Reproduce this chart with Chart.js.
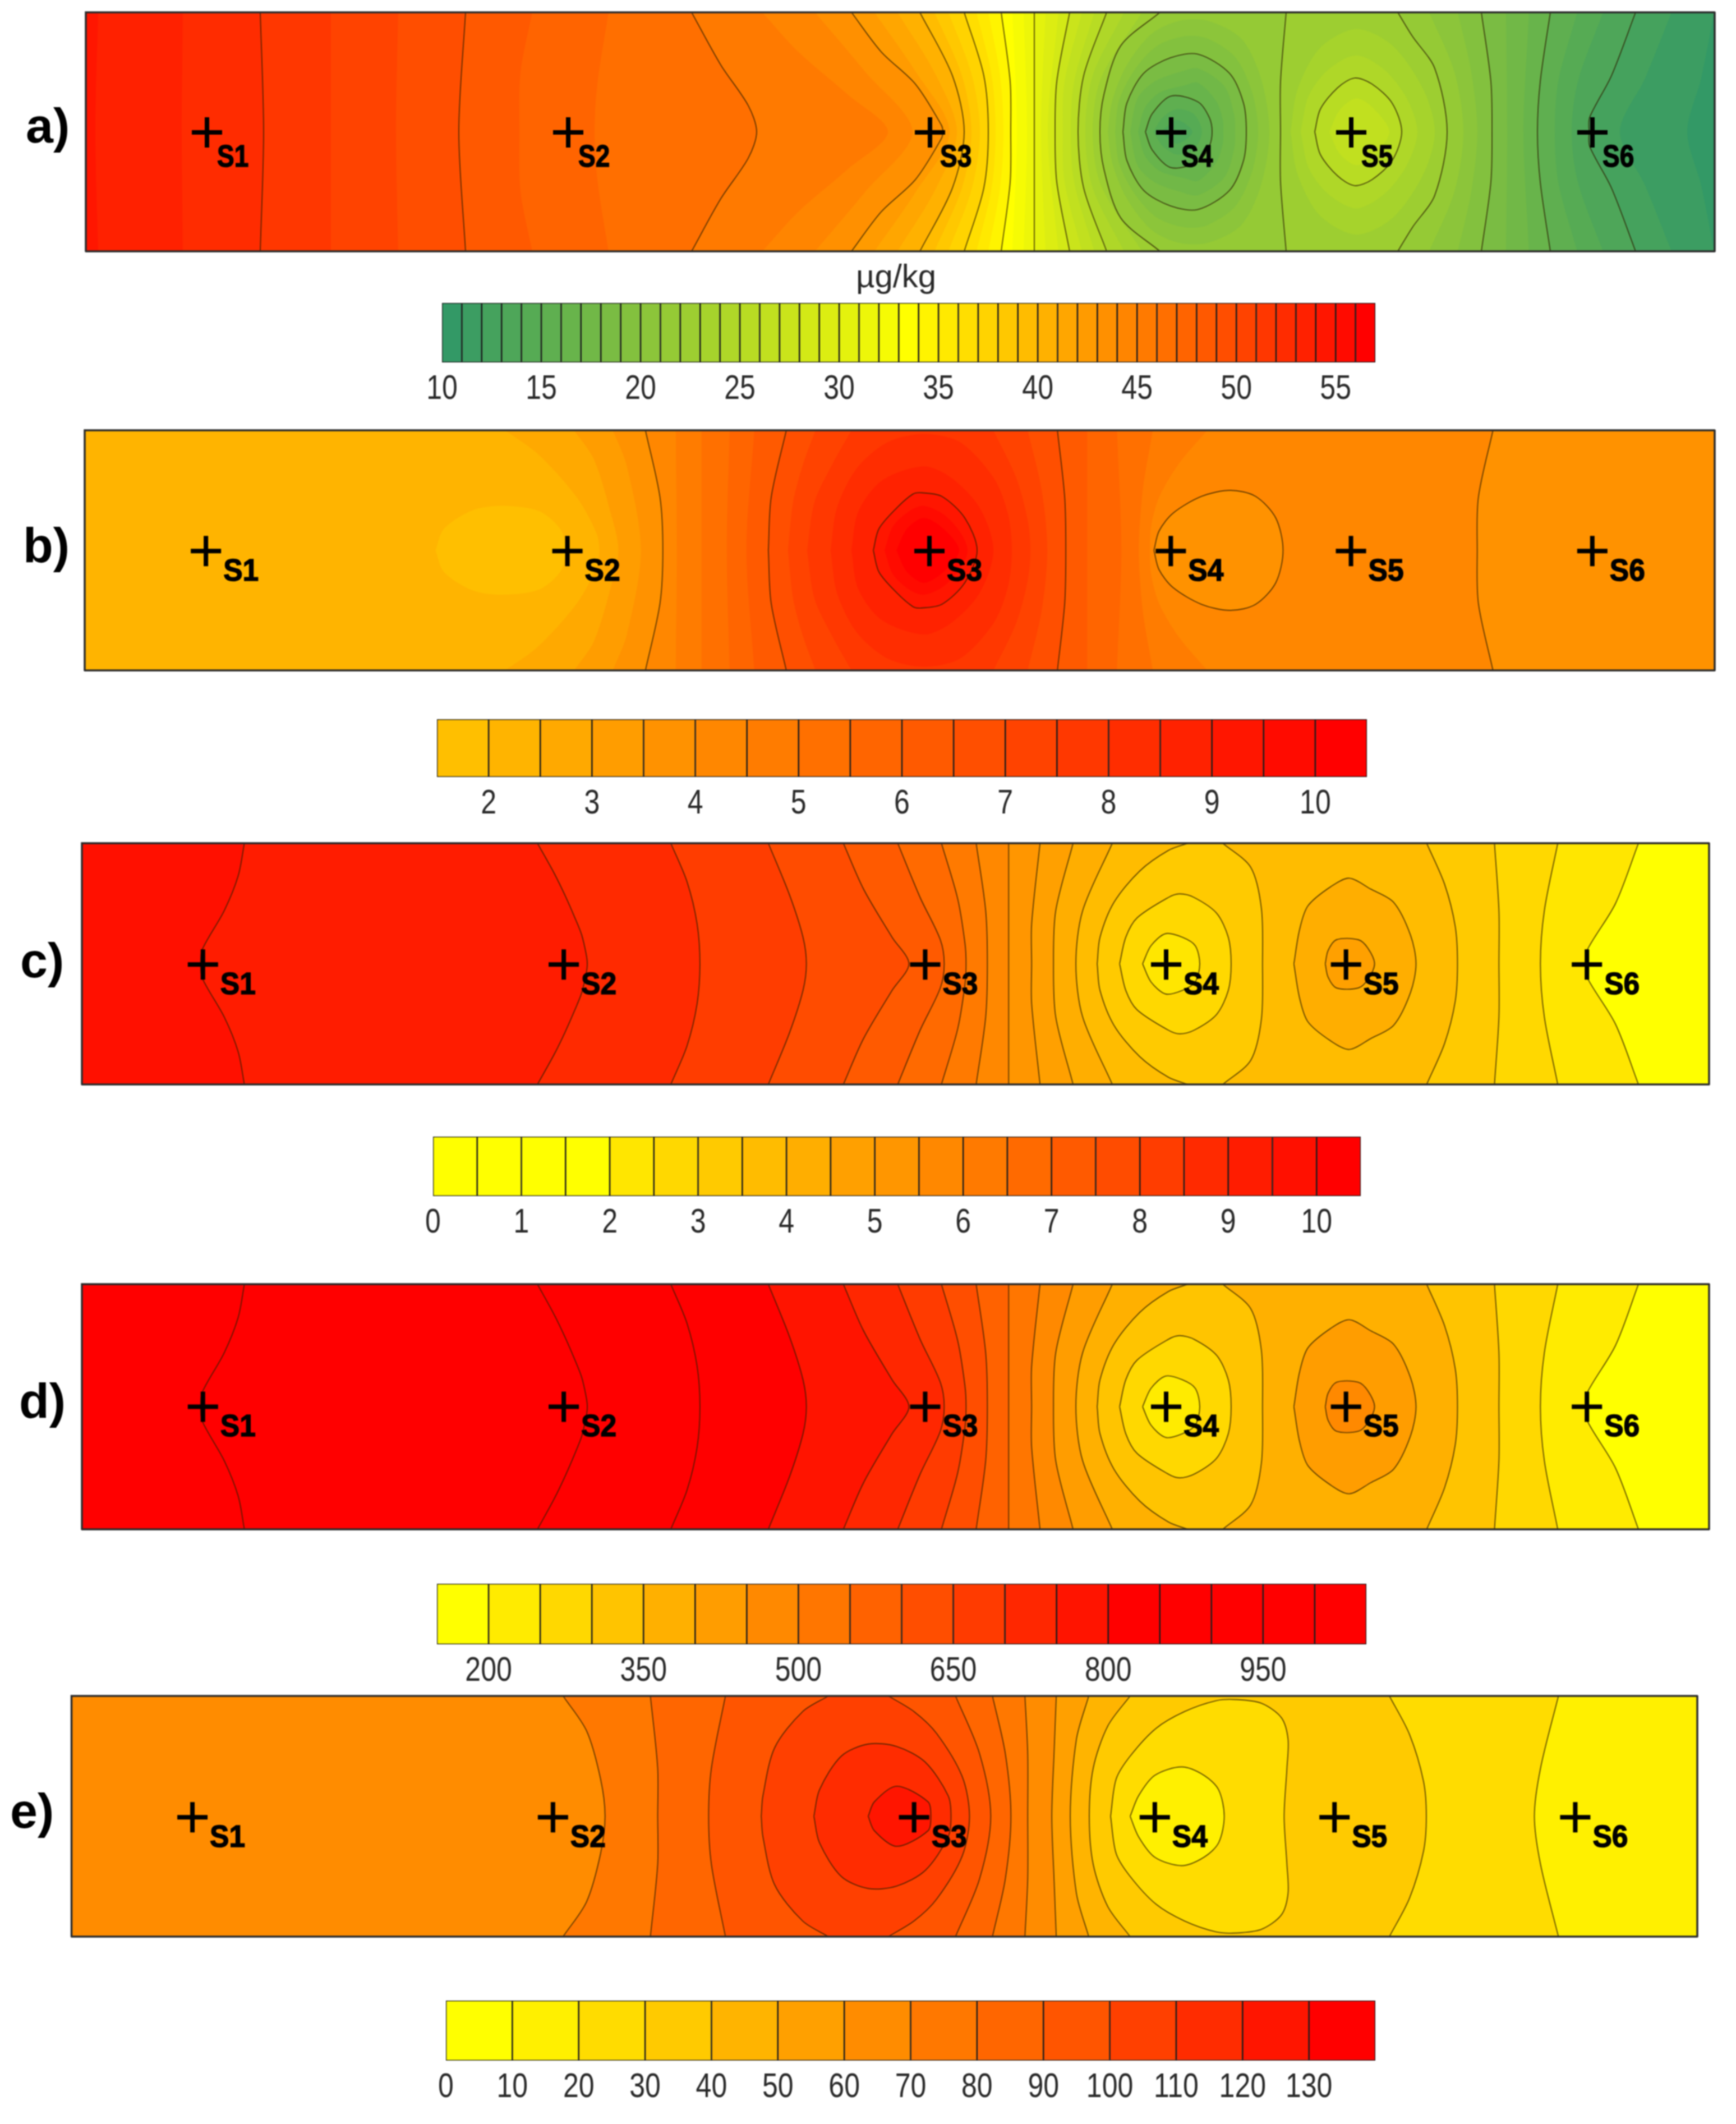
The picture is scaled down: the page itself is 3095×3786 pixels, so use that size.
<!DOCTYPE html>
<html><head><meta charset="utf-8">
<style>
html,body{margin:0;padding:0;background:#fff;width:3095px;height:3786px;overflow:hidden}
canvas{position:absolute;left:0;filter:blur(1.1px)}
</style>
<script src="https://cdn.jsdelivr.net/npm/chart.js@4/dist/chart.umd.js"></script>
</head><body>
<script>
// ---------- DATA ----------
// x = distance along the transect, y = -100..100 across it; curves are symmetric about y = 0.
const stationNames = ['S1','S2','S3','S4','S5','S6'];
const stationX = [216,860,1505,1935,2256,2686];

// colour-bar classes
const aBarEdges = [10,11,12,13,14,15,16,17,18,19,20,21,22,23,24,25,26,27,28,29,30,31,32,33,34,35,36,37,38,39,40,41,42,43,44,45,46,47,48,49,50,51,52,53,54,55,56,57];
const aTicks = [10,15,20,25,30,35,40,45,50,55];
const bBarEdges = [1.5,2,2.5,3,3.5,4,4.5,5,5.5,6,6.5,7,7.5,8,8.5,9,9.5,10,10.5];
const bTicks = [2,3,4,5,6,7,8,9,10];
const cBarEdges = [0,0.5,1,1.5,2,2.5,3,3.5,4,4.5,5,5.5,6,6.5,7,7.5,8,8.5,9,9.5,10,10.5];
const cTicks = [0,1,2,3,4,5,6,7,8,9,10];
const dBarEdges = [150,200,250,300,350,400,450,500,550,600,650,700,750,800,850,900,950,1000,1050];
const dTicks = [200,350,500,650,800,950];
const eBarEdges = [0,10,20,30,40,50,60,70,80,90,100,110,120,130,140];
const eTicks = [0,10,20,30,40,50,60,70,80,90,100,110,120,130];

// class colours
const aStops = [[51,153,102],[255,255,0],[255,0,0]];
const bColors = ['#ffbf00','#ffb400','#ffa900','#ff9d00','#ff9200','#ff8700','#ff7c00','#ff7000','#ff6500','#ff5a00','#ff4f00','#ff4300','#ff3800','#ff2d00','#ff2200','#ff1600','#ff0b00','#ff0000'];
const cColors = ['#ffff00','#ffff00','#ffff00','#ffff00','#ffe600','#ffd800','#ffca00','#ffbc00','#ffae00','#ffa000','#ff9600','#ff8800','#ff7a00','#ff6a00','#ff5a00','#ff4c00','#ff3d00','#ff2a00','#ff1c00','#ff1000','#ff0000'];
const dColors = ['#ffff00','#ffeb00','#ffd800','#ffc400','#ffb000','#ff9d00','#ff8900','#ff7600','#ff6200','#ff4e00','#ff3b00','#ff2700','#ff1400','#ff0000','#ff0000','#ff0000','#ff0000','#ff0000'];
const eColors = ['#ffff00','#fff000','#ffdc00','#ffca00','#ffb400','#ffa000','#ff8c00','#ff7800','#ff6600','#ff5500','#ff4000','#ff2c00','#ff1500','#ff0000'];

// [kind ('r' = everything right of the curve, 'c' = closed), class, isContourLine, half curve]
const aBase = 44;
const aCurves = [
['r',43,0,[[22,100],[17,0]]],
['r',42,0,[[173,100],[171,0]]],
['r',41,1,[[311,100],[317,0]]],
['r',40,0,[[437,100],[437,0]]],
['r',39,0,[[557,100],[553,0]]],
['r',38,1,[[677,100],[665,0]]],
['r',37,0,[[796,100],[775,50],[773,0]]],
['r',36,0,[[932,100],[912,40],[907,0]]],
['r',35,1,[[1080,100],[1132,56],[1181,22],[1196,0]]],
['r',34,0,[[1206,100],[1270,67],[1359,31],[1430,0]]],
['r',33,0,[[1300,100],[1390,50],[1474,0]]],
['r',32,1,[[1365,100],[1418,67],[1479,40],[1525,6],[1528,0]]],
['r',31,0,[[1406,100],[1480,50],[1540,0]]],
['r',30,0,[[1447,100],[1515,48],[1553,0]]],
['r',29,1,[[1487,100],[1545,47],[1566,0]]],
['r',28,0,[[1513,100],[1562,47],[1579,0]]],
['r',27,0,[[1538,100],[1580,47],[1594,0]]],
['r',26,1,[[1566,100],[1601,47],[1609,0]]],
['r',25,0,[[1588,100],[1615,47],[1622,0]]],
['r',24,0,[[1609,100],[1630,47],[1636,0]]],
['r',23,1,[[1632,100],[1648,42],[1649,0]]],
['r',22,0,[[1652,100],[1660,0]]],
['r',21,0,[[1672,100],[1678,0]]],
['r',20,1,[[1691,100],[1691,0]]],
['r',19,0,[[1711,100],[1703,0]]],
['r',18,0,[[1734,100],[1715,0]]],
['r',17,1,[[1754,100],[1731,42],[1728,0]]],
['r',16,0,[[1776,100],[1745,42],[1742,0]]],
['r',15,0,[[1798,100],[1762,42],[1756,0]]],
['r',14,1,[[1820,100],[1779,47],[1769,0]]],
['r',13,0,[[1851,100],[1795,47],[1782,0]]],
['r',12,0,[[1883,100],[1810,45],[1795,0]]],
['r',11,1,[[1915,100],[1845,72],[1815,31],[1808,0]]],
['c',10,0,[[1822,0],[1830,26],[1855,55],[1900,82],[1950,93],[2000,93],[2060,78],[2095,45],[2110,0]]],
['c',9,0,[[1835,0],[1842,26],[1870,52],[1910,72],[1960,80],[2000,78],[2050,62],[2080,32],[2090,0]]],
['c',8,1,[[1849,0],[1856,24],[1886,49],[1934,62],[1983,65],[2039,49],[2064,24],[2069,0]]],
['c',7,0,[[1862,0],[1875,28],[1905,42],[1950,50],[1983,53],[2030,38],[2047,15],[2049,0]]],
['c',6,0,[[1876,0],[1888,20],[1915,33],[1960,39],[1983,41],[2015,26],[2027,10],[2028,0]]],
['c',5,1,[[1889,0],[1901,15],[1935,30],[1983,25],[2003,12],[2008,0]]],
['c',4,0,[[1903,0],[1920,12],[1945,19],[1975,15],[1990,0]]],
['c',3,0,[[1917,0],[1945,10],[1973,0]]],
['r',12,1,[[2140,100],[2130,42],[2130,0]]],
['c',13,0,[[2148,0],[2160,35],[2200,70],[2265,86],[2330,72],[2385,35],[2405,0]]],
['c',14,0,[[2166,0],[2180,30],[2215,52],[2265,64],[2315,52],[2355,28],[2374,0]]],
['c',15,1,[[2191,0],[2201,19],[2232,37],[2262,45],[2293,40],[2329,24],[2346,0]]],
['c',16,0,[[2217,0],[2235,18],[2265,28],[2295,20],[2324,0]]],
['r',11,1,[[2339,100],[2365,80],[2405,53],[2427,0]]],
['r',10,0,[[2395,100],[2440,50],[2456,0]]],
['r',9,0,[[2446,100],[2470,50],[2481,0]]],
['r',8,1,[[2488,100],[2505,42],[2507,0]]],
['r',7,0,[[2532,100],[2534,0]]],
['r',6,0,[[2573,100],[2563,0]]],
['r',5,1,[[2611,100],[2593,42],[2588,0]]],
['r',4,0,[[2659,100],[2625,42],[2619,0]]],
['r',3,0,[[2705,100],[2660,42],[2649,0]]],
['r',2,1,[[2763,100],[2720,47],[2681,12],[2680,0]]],
['r',1,0,[[2827,100],[2780,45],[2735,0]]],
['r',0,0,[[2903,100],[2880,45],[2855,0]]]
];

const bBase = 1;
const bCurves = [
['c',0,0,[[625,0],[640,18],[689,33],[739,37],[808,33],[847,18],[857,0]]],
['r',2,0,[[749,100],[808,80],[877,44],[912,14],[917,0]]],
['r',3,0,[[872,100],[907,76],[936,33],[951,0]]],
['r',4,0,[[941,100],[966,70],[991,0]]],
['r',5,1,[[999,100],[1025,44],[1030,0]]],
['r',6,0,[[1053,100],[1055,0]]],
['r',7,0,[[1099,100],[1099,0]]],
['r',8,0,[[1149,100],[1144,0]]],
['r',9,0,[[1193,100],[1179,0]]],
['c',10,1,[[1218,0],[1223,44],[1250,100],[1733,100],[1746,44],[1748,0]]],
['c',11,0,[[1253,0],[1262,40],[1280,72],[1302,100],[1680,100],[1705,50],[1715,0]]],
['c',12,0,[[1287,0],[1300,40],[1330,70],[1366,100],[1619,100],[1660,60],[1680,25],[1685,0]]],
['c',13,0,[[1329,0],[1340,35],[1375,68],[1430,90],[1495,97],[1560,90],[1620,60],[1645,30],[1652,0]]],
['c',14,0,[[1366,0],[1378,32],[1420,58],[1495,70],[1545,60],[1595,35],[1619,0]]],
['c',15,1,[[1405,0],[1415,18],[1446,35],[1476,47],[1491,48],[1527,45],[1568,27],[1590,0]]],
['c',16,0,[[1425,0],[1440,20],[1470,33],[1495,37],[1530,30],[1560,15],[1573,0]]],
['c',17,0,[[1446,0],[1465,18],[1495,27],[1530,18],[1558,0]]],
['r',8,0,[[1786,100],[1786,0]]],
['r',7,0,[[1839,100],[1847,0]]],
['r',6,0,[[1903,100],[1885,50],[1878,0]]],
['r',5,0,[[2000,100],[1949,72],[1914,44],[1900,20],[1898,0]]],
['c',4,1,[[1905,0],[1914,16],[1939,31],[1990,45],[2041,50],[2086,45],[2122,27],[2135,0]]],
['r',4,1,[[2509,100],[2483,44],[2481,0]]]
];

// panels c and d share the same contour geometry
const cdCurves = [
['r',[[290,100],[279,73],[254,44],[215,12],[212,0]]],
['r',[[813,100],[843,75],[862,57],[880,38],[892,24],[900,8],[902,0]]],
['r',[[1051,100],[1080,68],[1098,33],[1103,0]]],
['r',[[1225,100],[1263,57],[1287,22],[1293,0]]],
['r',[[1359,100],[1395,62],[1446,22],[1476,0]]],
['r',[[1456,100],[1496,55],[1532,20],[1539,0]]],
['r',[[1534,100],[1563,54],[1576,17],[1578,0]]],
['r',[[1596,100],[1613,44],[1616,0]]],
['r',[[1654,100],[1654,0]]],
['r',[[1710,100],[1695,33],[1695,0]]],
['r',[[1769,100],[1738,44],[1734,0]]],
['r',[[1839,100],[1786,44],[1774,0]]],
['c',[[1812,0],[1817,22],[1842,51],[1888,77],[1939,94],[1974,100],[2036,100],[2086,80],[2105,46],[2107,0]]],
['c',[[1852,0],[1863,22],[1883,38],[1939,55],[1959,58],[1985,55],[2025,42],[2046,22],[2051,0]]],
['c',[[1893,0],[1908,15],[1934,25],[1964,22],[1987,15],[1995,0]]],
['c',[[2163,0],[2173,28],[2188,48],[2229,64],[2262,71],[2300,62],[2341,51],[2371,24],[2381,0]]],
['c',[[2219,0],[2224,11],[2239,20],[2278,20],[2295,13],[2307,0]]],
['r',[[2400,100],[2432,66],[2451,31],[2455,0]]],
['r',[[2521,100],[2529,44],[2529,0]]],
['r',[[2634,100],[2610,44],[2603,0]]],
['r',[[2778,100],[2737,50],[2686,11],[2684,0]]]
];
const cBase = 19;
const cClasses = [18,17,16,15,14,13,12,11,10,9,8,7,6,5,4,8,9,6,5,4,3];
const dBase = 16;
const dClasses = [15,14,13,12,11,10,9,8,7,6,5,4,3,2,1,5,6,3,2,1,0];

const eBase = 6;
const eCurves = [
['r',7,1,[[878,100],[920,71],[945,31],[953,0]]],
['r',8,1,[[1034,100],[1047,40],[1047,0]]],
['r',9,1,[[1168,100],[1143,40],[1138,0]]],
['r',8,1,[[1579,100],[1622,52],[1642,0]]],
['r',7,1,[[1645,100],[1668,52],[1678,0]]],
['r',6,1,[[1703,100],[1708,52],[1708,0]]],
['r',5,1,[[1759,100],[1755,52],[1751,0]]],
['r',4,1,[[1817,100],[1795,64],[1784,0]]],
['r',3,1,[[1891,100],[1851,75],[1825,40],[1818,0]]],
['c',10,1,[[1232,0],[1235,17],[1256,57],[1306,87],[1352,100],[1459,100],[1505,87],[1545,69],[1591,33],[1604,0]]],
['c',11,1,[[1326,0],[1336,22],[1375,50],[1423,60],[1474,58],[1525,45],[1566,17],[1571,0]]],
['c',12,1,[[1423,0],[1434,12],[1474,25],[1530,12],[1535,0]]],
['c',2,1,[[1856,0],[1866,31],[1891,50],[1937,73],[1988,87],[2044,96],[2079,97],[2125,94],[2161,82],[2173,64],[2171,40],[2166,0]]],
['c',1,1,[[1891,0],[1906,17],[1935,34],[1983,41],[2023,34],[2049,22],[2059,0]]],
['r',2,1,[[2354,100],[2390,68],[2415,29],[2420,0]]],
['r',1,1,[[2656,100],[2624,40],[2613,0]]]
];

// ---------- LAYOUT AND STYLE ----------
const XMAX = 2904, W = 3095;
const wide = '"Liberation Sans",Arial,sans-serif';
const CONDENSE = 0.82;
const LINE = 'rgba(45,30,0,0.72)', FRAME = '#2b2b2b';

function ramp(n, stops){
  const out = [], mid = 23;
  for(let i=0;i<n;i++){
    const [p,q,t] = i<=mid ? [stops[0],stops[1],i/mid] : [stops[1],stops[2],(i-mid)/(n-1-mid)];
    out.push('rgb('+p.map((v,k)=>Math.round(v+(q[k]-v)*t)).join(',')+')');
  }
  return out;
}
const aColors = ramp(47, aStops);

function xy(p){ return {x:p[0], y:p[1]}; }
// repeating a vertex on the panel edge keeps the spline from rounding that corner
function sharpen(pts){
  const out = [];
  pts.forEach(p=>{ out.push(p); if(Math.abs(p[1])===100) out.push(p); });
  return out;
}
function region(kind, half){
  const mirrored = half.slice().reverse().filter(p=>p[1]!==0).map(p=>[p[0],-p[1]]);
  if(kind==='r'){
    const line = half.concat(mirrored);
    const first = line[0], last = line[line.length-1];
    const poly = line.concat([last,[XMAX+60,last[1]],[XMAX+60,last[1]],[XMAX+60,first[1]],[XMAX+60,first[1]],first,first]);
    return {line, poly};
  }
  const line = sharpen(half.concat(mirrored, [half[0]]));
  return {line, poly:line};
}
function makeCanvas(top, h){
  const cv = document.createElement('canvas');
  cv.width = W; cv.height = h; cv.style.top = top+'px'; cv.style.width=W+'px'; cv.style.height=h+'px';
  document.body.appendChild(cv);
  return cv;
}
function panel(cfg){
  const cv = makeCanvas(cfg.top-12, cfg.bottom-cfg.top+24);
  const datasets = [];
  let order = 1000;
  const base = s => ({type:'scatter', showLine:true, pointRadius:0, pointHoverRadius:0, tension:0.3, borderJoinStyle:'round', order:order--, ...s});
  const frame = [[0,100],[XMAX,100],[XMAX,-100],[0,-100],[0,100]].map(xy);
  datasets.push(base({data:frame, fill:'shape', backgroundColor:cfg.colors[cfg.baseClass], borderWidth:0, tension:0}));
  const lines = [];
  cfg.curves.forEach(c=>{
    const r = region(c.kind, c.pts);
    datasets.push(base({data:r.poly.map(xy), fill:'shape', backgroundColor:cfg.colors[c.cls], borderColor:cfg.colors[c.cls], borderWidth:0}));
    if(c.line) lines.push(r.line);
  });
  lines.forEach(l=>datasets.push(base({data:l.map(xy), fill:false, borderColor:LINE, borderWidth:1.9})));
  datasets.push(base({data:frame, fill:false, borderColor:FRAME, borderWidth:3.5, tension:0, clip:false, borderCapStyle:'square'}));
  datasets.push(base({data:stationX.map(x=>({x, y:cfg.stationY})), showLine:false, fill:false, pointStyle:'cross', pointRadius:27, pointBorderColor:'#000', pointBorderWidth:8, pointBackgroundColor:'#000', clip:false}));
  new Chart(cv,{
    type:'scatter',
    data:{datasets},
    options:{
      responsive:false, animation:false, devicePixelRatio:1,
      layout:{autoPadding:false, padding:{left:cfg.left, right:W-cfg.right, top:12, bottom:12}},
      plugins:{legend:{display:false}, tooltip:{enabled:false}},
      scales:{
        x:{type:'linear', display:false, min:0, max:XMAX},
        y:{type:'linear', display:false, min:-100, max:100}
      }
    },
    plugins:[{id:'panelText', afterDraw(chart){
      const c = chart.ctx, sx = chart.scales.x, sy = chart.scales.y;
      c.save(); c.fillStyle='#000'; c.strokeStyle='#000'; c.lineWidth=1.5; c.textAlign='left'; c.textBaseline='middle';
      c.font = 'bold 56px '+wide;
      stationX.forEach((x,i)=>{
        c.save();
        c.translate(sx.getPixelForValue(x)+cfg.dx, sy.getPixelForValue(cfg.stationY)+cfg.dy);
        c.scale(cfg.labelScale,1);
        c.fillText(stationNames[i],0,0);
        c.strokeText(stationNames[i],0,0);
        c.restore();
      });
      c.font = 'bold 88px '+wide; c.textBaseline='alphabetic';
      c.fillText(cfg.label, cfg.labelX, sy.getPixelForValue(0)+cfg.labelDy);
      c.restore();
    }}]
  });
}
function colorbar(cfg){
  const padTop = cfg.unit ? 100 : 10, axisH = 90;
  const cv = makeCanvas(cfg.top-padTop, padTop+cfg.bottom-cfg.top+axisH);
  // tick labels in the reference are horizontally condensed Arial
  const ctx = cv.getContext('2d');
  const rawFill = ctx.fillText.bind(ctx);
  ctx.fillText = (t,x,y)=>{ ctx.save(); ctx.transform(CONDENSE,0,0,1,x,y); rawFill(t,0,0); ctx.restore(); };
  const e = cfg.edges;
  const datasets = e.slice(0,-1).map((lo,i)=>({data:[[lo,e[i+1]]], backgroundColor:cfg.colors[i], borderColor:'#1c1c1c', borderWidth:1.6, borderSkipped:false, grouped:false, barPercentage:1, categoryPercentage:1}));
  new Chart(cv,{
    type:'bar',
    data:{labels:[''], datasets},
    options:{
      indexAxis:'y', responsive:false, animation:false, devicePixelRatio:1,
      layout:{autoPadding:false, padding:{left:cfg.left, right:W-cfg.right, top:padTop, bottom:0}},
      plugins:{legend:{display:false}, tooltip:{enabled:false}},
      scales:{
        y:{display:false},
        x:{type:'linear', min:e[0], max:e[e.length-1],
          grid:{display:false, drawTicks:false}, border:{display:false},
          afterBuildTicks(s){ s.ticks = cfg.ticks.map(v=>({value:v})); },
          afterFit(s){ s.height = axisH; },
          ticks:{autoSkip:false, maxRotation:0, minRotation:0, padding:cfg.tickPad, color:'#2a2a2a', font:{family:wide, size:61}, callback:v=>String(v)}
        }
      }
    },
    plugins:[{id:'unit', afterDraw(chart){
      if(!cfg.unit) return;
      const c = chart.ctx;
      c.save(); c.fillStyle='#2a2a2a'; c.font='58px '+wide; c.textAlign='left'; c.textBaseline='alphabetic';
      rawFill(cfg.unit, 1526, 512-(cfg.top-padTop)); c.restore();
    }}]
  });
}
const toCurves = a => a.map(c=>({kind:c[0], cls:c[1], line:c[2], pts:c[3]}));
const cdTo = cls => cdCurves.map((c,i)=>({kind:c[0], cls:cls[i], line:1, pts:c[1]}));

panel({left:153,right:3057,top:22,bottom:448,colors:aColors,baseClass:aBase,curves:toCurves(aCurves),stationY:-0.5,dx:18,dy:45,labelScale:0.82,label:'a)',labelX:46,labelDy:19});
colorbar({left:788,right:2452,top:540,bottom:646,edges:aBarEdges,ticks:aTicks,colors:aColors,unit:'µg/kg',tickPad:12});
panel({left:151,right:3057,top:767,bottom:1195,colors:bColors,baseClass:bBase,curves:toCurves(bCurves),stationY:-0.6,dx:31,dy:37,labelScale:0.92,label:'b)',labelX:41,labelDy:21});
colorbar({left:779,right:2437,top:1282,bottom:1385,edges:bBarEdges,ticks:bTicks,colors:bColors,tickPad:12});
panel({left:146,right:3047,top:1503,bottom:1933,colors:cColors,baseClass:cBase,curves:cdTo(cClasses),stationY:-0.6,dx:31,dy:37,labelScale:0.92,label:'c)',labelX:36,labelDy:24});
colorbar({left:772,right:2426,top:2026,bottom:2132,edges:cBarEdges,ticks:cTicks,colors:cColors,tickPad:12});
panel({left:146,right:3047,top:2289,bottom:2726,colors:dColors,baseClass:dBase,curves:cdTo(dClasses),stationY:0,dx:31,dy:37,labelScale:0.92,label:'d)',labelX:34,labelDy:19});
colorbar({left:779,right:2436,top:2823,bottom:2931,edges:dBarEdges,ticks:dTicks,colors:dColors,tickPad:12});
panel({left:127.5,right:3026,top:3022.5,bottom:3452,colors:eColors,baseClass:eBase,curves:toCurves(eCurves),stationY:-0.8,dx:31,dy:37,labelScale:0.92,label:'e)',labelX:18,labelDy:20});
colorbar({left:795,right:2452,top:3565.5,bottom:3673,edges:eBarEdges,ticks:eTicks,colors:eColors,tickPad:12});
</script>
</body></html>
